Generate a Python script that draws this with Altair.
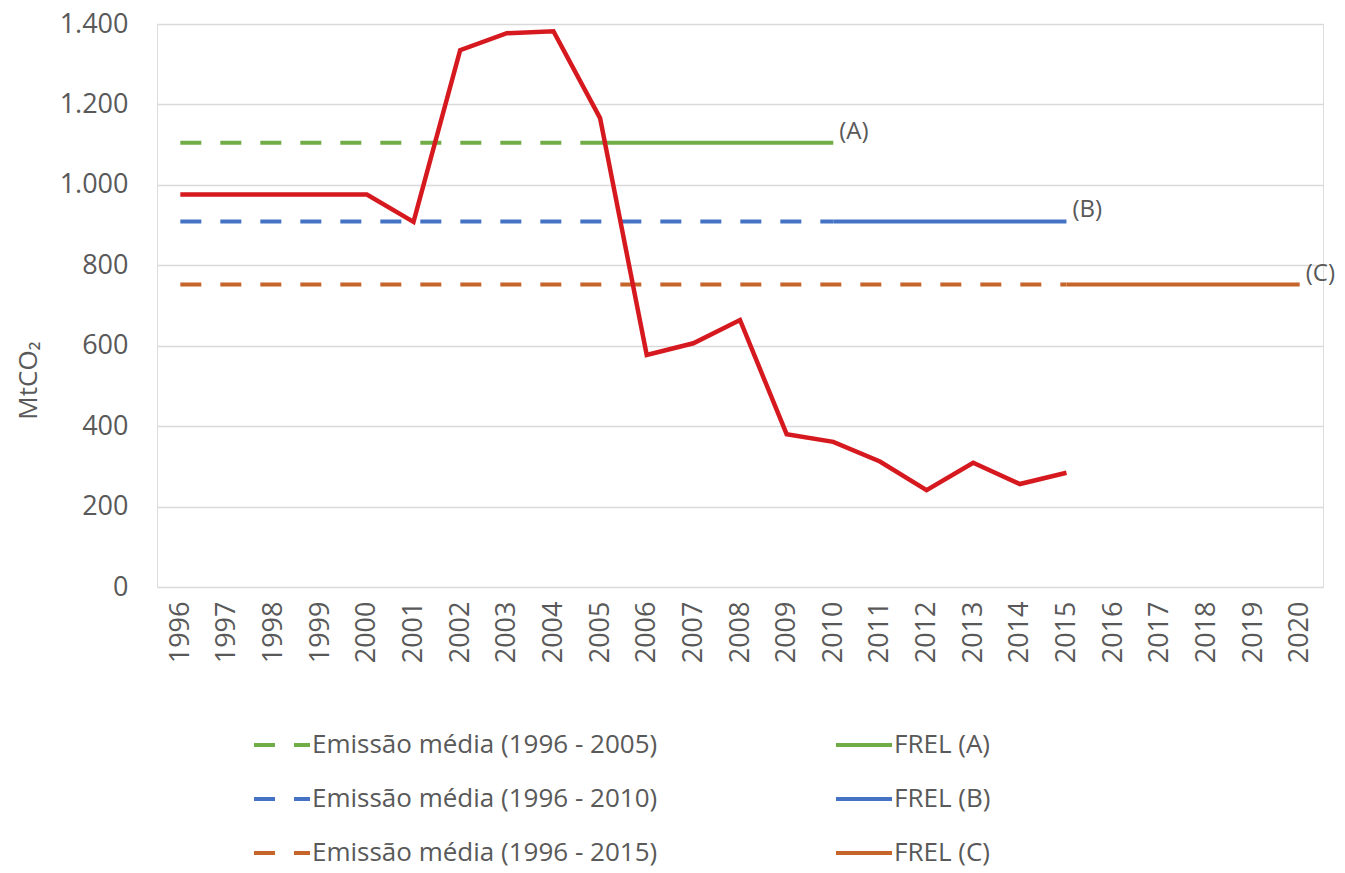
import altair as alt
import pandas as pd

# ---- data ----
years = list(range(1996, 2021))
emission_years = list(range(1996, 2016))
emission_values = [976, 976, 976, 976, 976, 908, 1335, 1377, 1382, 1166,
                   577, 606, 664, 380, 361, 312, 241, 309, 256, 284]

series_names = ["Emissão média (1996 - 2005)", "Emissão média (1996 - 2010)",
                "Emissão média (1996 - 2015)", "FREL (A)", "FREL (B)", "FREL (C)"]
series_start = [1996, 1996, 1996, 2005, 2010, 2015]
series_end = [2005, 2010, 2015, 2010, 2015, 2020]
series_level = [1105, 909, 752, 1105, 909, 752]
series_colors = ["#70AD47", "#4472C4", "#C5652A", "#70AD47", "#4472C4", "#C5652A"]
series_dash = [[21, 19], [21, 19], [21, 19], [1, 0], [1, 0], [1, 0]]

end_labels = ["(A)", "(B)", "(C)"]
end_label_years = [2010, 2015, 2020]
end_label_levels = [1105, 909, 752]

y_ticks = [0, 200, 400, 600, 800, 1000, 1200, 1400]

FONT = "Open Sans"
GREY = "#595959"

# ---- tables ----
red_df = pd.DataFrame({"year": emission_years, "value": emission_values})
rows = []
for n, s, e, v in zip(series_names, series_start, series_end, series_level):
    rows.append({"series": n, "year": s, "value": v})
    rows.append({"series": n, "year": e, "value": v})
ref_df = pd.DataFrame(rows)
lab_df = pd.DataFrame({"label": end_labels, "year": end_label_years, "value": end_label_levels})

x_enc = alt.X("year:O", scale=alt.Scale(domain=years),
              axis=alt.Axis(title=None, labelAngle=-90, labelFont=FONT, labelFontSize=27,
                            labelColor=GREY, ticks=False, domain=False, grid=False,
                            labelPadding=14))
y_enc = alt.Y("value:Q", scale=alt.Scale(domain=[0, 1400], nice=False),
              axis=alt.Axis(title="MtCO₂", values=y_ticks,
                            labelExpr="replace(format(datum.value, ','), ',', '.')",
                            labelFont=FONT, labelFontSize=27, labelColor=GREY,
                            ticks=False, tickSize=0, domain=False, labelPadding=29,
                            gridColor="#D9D9D9", gridWidth=1.5,
                            titleFont=FONT, titleFontSize=26, titleColor=GREY,
                            titleFontWeight="normal", titleX=-129, titleY=356,
                            titleAlign="center", titleBaseline="middle", titleAngle=270))

legend_opts = dict(title=None, orient="none", legendX=95, legendY=691,
                   columns=2, columnPadding=170, rowPadding=11,
                   symbolType="stroke", symbolSize=3136, symbolStrokeWidth=4,
                   labelFont=FONT, labelFontSize=26, labelColor=GREY,
                   labelOffset=0, labelLimit=700, padding=0)

ref_lines = alt.Chart(ref_df).mark_line(strokeWidth=4).encode(
    x=x_enc,
    y=y_enc,
    color=alt.Color("series:N",
                    scale=alt.Scale(domain=series_names, range=series_colors),
                    legend=alt.Legend(**legend_opts)),
    strokeDash=alt.StrokeDash("series:N",
                              scale=alt.Scale(domain=series_names, range=series_dash),
                              legend=alt.Legend(**legend_opts)),
    detail="series:N",
)

red_line = alt.Chart(red_df).mark_line(strokeWidth=4.5, color="#D6191F").encode(
    x=alt.X("year:O", scale=alt.Scale(domain=years)),
    y=alt.Y("value:Q"),
)

labels = alt.Chart(lab_df).mark_text(align="left", baseline="middle", dx=6, dy=-11,
                                     font=FONT, fontSize=24, color=GREY).encode(
    x=alt.X("year:O", scale=alt.Scale(domain=years)),
    y=alt.Y("value:Q"),
    text="label:N",
)

chart = alt.layer(ref_lines, red_line, labels).properties(
    width=1166, height=563,
    autosize=alt.AutoSizeParams(type="none"),
    padding={"left": 149, "top": 16, "right": 14, "bottom": 282},
).configure_view(stroke=None).configure(background="white")

chart.save("out.html", embed_options={"renderer": "svg", "actions": False})
